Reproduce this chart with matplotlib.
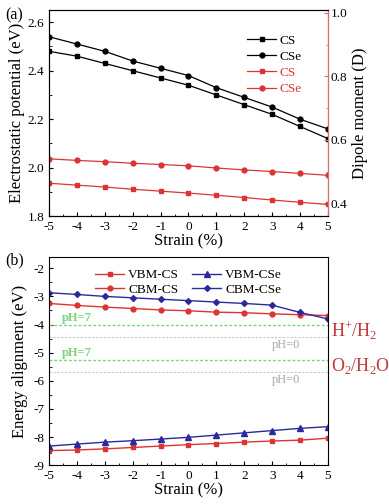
import numpy as np
import matplotlib
matplotlib.use('Agg')
import matplotlib.pyplot as plt
from matplotlib.ticker import MultipleLocator

plt.rcParams['font.family'] = ['Liberation Serif', 'DejaVu Serif']
plt.rcParams['mathtext.fontset'] = 'custom'
plt.rcParams['mathtext.rm'] = 'Liberation Serif'
plt.rcParams['axes.unicode_minus'] = False

strain = [-5, -4, -3, -2, -1, 0, 1, 2, 3, 4, 5]

# panel (a): electrostatic potential (eV), left axis
pot_cs = [2.48, 2.46, 2.43, 2.40, 2.37, 2.34, 2.30, 2.26, 2.22, 2.17, 2.12]
pot_cse = [2.54, 2.51, 2.48, 2.44, 2.41, 2.38, 2.33, 2.29, 2.25, 2.20, 2.16]
# panel (a): dipole moment (D), right axis
dip_cs = [0.463, 0.457, 0.451, 0.444, 0.438, 0.432, 0.425, 0.418, 0.410, 0.403, 0.396]
dip_cse = [0.540, 0.535, 0.531, 0.526, 0.522, 0.518, 0.511, 0.505, 0.500, 0.494, 0.488]

# panel (b): band edges (eV)
vbm_cs = [-8.48, -8.46, -8.42, -8.37, -8.32, -8.27, -8.23, -8.18, -8.14, -8.11, -8.04]
cbm_cs = [-3.25, -3.32, -3.38, -3.43, -3.48, -3.51, -3.56, -3.58, -3.62, -3.65, -3.68]
vbm_cse = [-8.32, -8.25, -8.18, -8.13, -8.07, -8.01, -7.93, -7.85, -7.77, -7.69, -7.63]
cbm_cse = [-2.87, -2.93, -3.00, -3.05, -3.10, -3.15, -3.20, -3.25, -3.31, -3.57, -3.80]

# redox levels
h_ph7, h_ph0 = -4.03, -4.44
o_ph7, o_ph0 = -5.26, -5.67

RED = '#dc3434'
BLUE = '#2a2a9e'
LRED = '#d77070'
GREEN = '#78d478'

fig = plt.figure(figsize=(3.89, 5.04), dpi=100)


def style_ax(ax):
    ax.tick_params(direction='in', labelsize=9.5, length=3, width=0.8)
    ax.tick_params(which='minor', direction='in', length=1.8, width=0.6)
    ax.xaxis.set_major_locator(MultipleLocator(1))
    ax.xaxis.set_minor_locator(MultipleLocator(0.5))
    ax.set_xlim(-5, 5)
    for s in ax.spines.values():
        s.set_linewidth(0.8)


# ---------- (a) ----------
ax1 = fig.add_axes([0.126, 0.571, 0.717, 0.409])
style_ax(ax1)
l1, = ax1.plot(strain, pot_cs, '-s', color='black', lw=0.9, ms=3.5, label='CS')
l2, = ax1.plot(strain, pot_cse, '-o', color='black', lw=0.9, ms=3.5, label='CSe')
ax1.set_ylim(1.8, 2.65)
ax1.yaxis.set_major_locator(MultipleLocator(0.2))
ax1.yaxis.set_minor_locator(MultipleLocator(0.1))
ax1.set_xlabel('Strain (%)', fontsize=12, labelpad=0)
ax1.set_ylabel('Electrostatic potential (eV)', fontsize=12, labelpad=2)

ax1r = ax1.twinx()
l3, = ax1r.plot(strain, dip_cs, '-s', color=RED, lw=0.9, ms=3.5, label='CS')
l4, = ax1r.plot(strain, dip_cse, '-o', color=RED, lw=0.9, ms=3.5, label='CSe')
ax1r.set_ylim(0.359, 1.009)
ax1r.yaxis.set_major_locator(MultipleLocator(0.2))
ax1r.yaxis.set_minor_locator(MultipleLocator(0.1))
ax1r.tick_params(direction='in', labelsize=9.5, length=3, width=0.8, pad=2)
ax1r.tick_params(which='minor', direction='in', length=1.8, width=0.6)
ax1r.spines['right'].set_color(LRED)
ax1r.tick_params(axis='y', colors=LRED, labelcolor='black')
ax1r.tick_params(axis='y', which='minor', colors=LRED)
ax1r.set_ylabel('Dipole moment (D)', fontsize=12, labelpad=3)

leg = ax1.legend(handles=[l1, l2, l3, l4], loc='upper right', bbox_to_anchor=(0.95, 0.94),
                 frameon=False, fontsize=9.5, handlelength=2.2, labelspacing=0.3, handletextpad=0.3)
for t, c in zip(leg.get_texts(), ['black', 'black', RED, RED]):
    t.set_color(c)

fig.text(0.013, 0.962, '(a)', fontsize=11.5)

# ---------- (b) ----------
ax2 = fig.add_axes([0.126, 0.077, 0.717, 0.413])
style_ax(ax2)
ax2.set_ylim(-9, -1.6)
ax2.yaxis.set_major_locator(MultipleLocator(1))
ax2.yaxis.set_minor_locator(MultipleLocator(0.5))

ax2.axhline(h_ph7, color=GREEN, ls=(0, (2, 1.5)), lw=1.0)
ax2.axhline(o_ph7, color=GREEN, ls=(0, (2, 1.5)), lw=1.0)
ax2.axhline(h_ph0, color='#c8c8c8', ls=(0, (2, 1.5)), lw=0.8)
ax2.axhline(o_ph0, color='#c8c8c8', ls=(0, (2, 1.5)), lw=0.8)

b1, = ax2.plot(strain, vbm_cs, '-s', color=RED, lw=1.0, ms=3.5, label='VBM-CS')
b2, = ax2.plot(strain, cbm_cs, '-o', color=RED, lw=1.0, ms=3.5, label='CBM-CS')
b3, = ax2.plot(strain, vbm_cse, '-^', color=BLUE, lw=1.0, ms=3.8, label='VBM-CSe')
b4, = ax2.plot(strain, cbm_cse, '-D', color=BLUE, lw=1.0, ms=3.0, label='CBM-CSe')

ax2.legend(handles=[b1, b2, b3, b4], loc='upper center', bbox_to_anchor=(0.5, 1.0), ncol=2,
           frameon=False, fontsize=9.5, handlelength=2.2, labelspacing=0.2,
           handletextpad=0.3, columnspacing=1.0)

ax2.text(-4.55, h_ph7 + 0.04, 'pH=7', color=GREEN, fontsize=9, va='bottom', fontweight='bold')
ax2.text(-4.55, o_ph7 + 0.04, 'pH=7', color=GREEN, fontsize=9, va='bottom', fontweight='bold')
ax2.text(3.5, h_ph0 - 0.08, 'pH=0', color='#a8a8a8', fontsize=9, va='top', ha='center')
ax2.text(3.5, o_ph0 - 0.08, 'pH=0', color='#a8a8a8', fontsize=9, va='top', ha='center')
ax2.text(1.01, -4.24, r'H$^{+}$/H$_2$', color='#c03a3a', fontsize=13,
         va='center', ha='left', transform=ax2.get_yaxis_transform())
ax2.text(1.01, -5.47, r'O$_2$/H$_2$O', color='#c03a3a', fontsize=13,
         va='center', ha='left', transform=ax2.get_yaxis_transform())

ax2.set_xlabel('Strain (%)', fontsize=12, labelpad=0)
ax2.set_ylabel('Energy alignment (eV)', fontsize=12, labelpad=4)

fig.text(0.013, 0.475, '(b)', fontsize=11.5)

fig.savefig('out.png', dpi=100)
